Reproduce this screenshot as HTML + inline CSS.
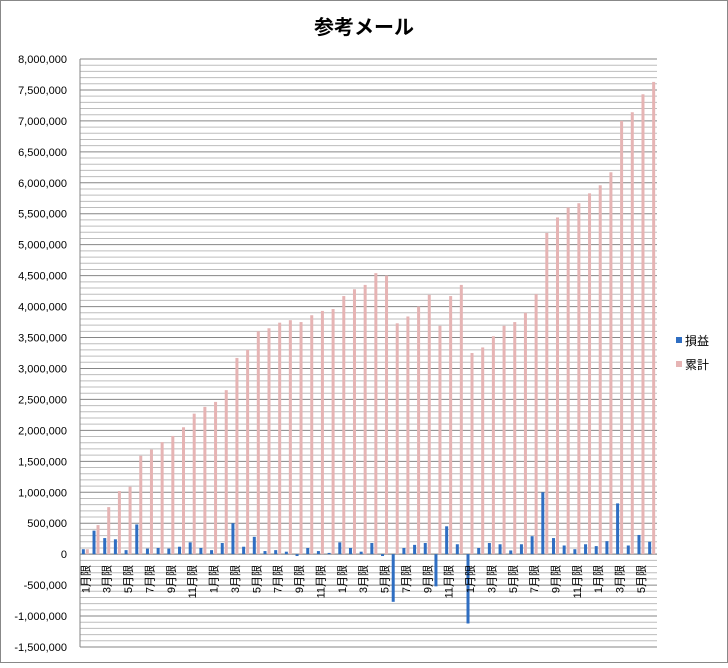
<!DOCTYPE html>
<html><head><meta charset="utf-8"><style>
body{margin:0;background:#fff;}
#wrap{width:728px;height:663px;position:relative;font-family:"Liberation Sans","Noto Sans CJK JP",sans-serif;}
svg text{font-family:"Liberation Sans","Noto Sans CJK JP",sans-serif;}
</style></head><body>
<div id="wrap">
<svg id="chart" width="728" height="663"></svg>
</div>
<script>
const categories = [];
const monthLabels = ["1月限","3月限","5月限","7月限","9月限","11月限"];
const profit = [0.08,0.38,0.26,0.24,0.065,0.48,0.09,0.10,0.09,0.12,0.19,0.10,0.065,0.18,0.50,0.12,0.28,0.05,0.065,0.04,-0.03,0.10,0.05,0.02,0.19,0.10,0.04,0.18,-0.03,-0.77,0.10,0.15,0.18,-0.52,0.45,0.16,-1.12,0.10,0.18,0.16,0.06,0.16,0.29,1.00,0.26,0.14,0.08,0.16,0.13,0.21,0.82,0.14,0.31,0.20].map(v=>v*1e6);
const cumulative = [0.08,0.47,0.76,1.02,1.09,1.59,1.69,1.81,1.91,2.05,2.27,2.38,2.46,2.65,3.17,3.30,3.60,3.65,3.74,3.78,3.75,3.86,3.93,3.96,4.17,4.28,4.35,4.54,4.50,3.73,3.84,4.00,4.19,3.69,4.17,4.35,3.25,3.34,3.52,3.69,3.75,3.90,4.20,5.19,5.44,5.60,5.67,5.83,5.96,6.17,7.00,7.14,7.43,7.63].map(v=>v*1e6);
const yTicks = [-1500000,-1000000,-500000,0,500000,1000000,1500000,2000000,2500000,3000000,3500000,4000000,4500000,5000000,5500000,6000000,6500000,7000000,7500000,8000000];
for(let i=0;i<profit.length;i++) categories.push(i%2===0 ? monthLabels[(i/2)%6] : "");

const NS="http://www.w3.org/2000/svg";
const svg=document.getElementById('chart');
const L=80,R=657,T=59,B=647,yMin=-1500000,yMax=8000000;
const y=v=>T+(yMax-v)/(yMax-yMin)*(B-T);
const bw=(R-L)/categories.length;
const x=i=>L+bw*(i+0.5);
function mk(tag,attrs,parent){const e=document.createElementNS(NS,tag);for(const k in attrs)e.setAttribute(k,attrs[k]);(parent||svg).appendChild(e);return e;}

const border=mk('rect',{x:0.5,y:0.5,width:727,height:662,fill:'#fff',stroke:'#888'});



const title=mk('text',{x:364,y:34,'text-anchor':'middle','font-size':20,'font-weight':'bold',fill:'#000'});
title.textContent='参考メール';



// gridlines
for(let v=yMin;v<=yMax;v+=100000){
  const major=(v%500000===0);
  const g=mk('line',{x1:L,x2:R,y1:y(v),y2:y(v),stroke:major?'#868686':'#bdbdbd','stroke-width':1});
  
  
}
// y labels
yTicks.forEach(v=>{
  const t=mk('text',{x:67,y:y(v)+4,'text-anchor':'end','font-size':11,fill:'#000'});
  t.textContent=v.toLocaleString('en-US');
  
  
});
const ax=mk('line',{x1:L,x2:L,y1:T,y2:B,stroke:'#868686'});


const xax=mk('line',{x1:L,x2:R,y1:y(0),y2:y(0),stroke:'#868686'});



// bars
for(let i=0;i<categories.length;i++){
  const p=profit[i];
  const b=mk('rect',{x:x(i)-3.5,y:Math.min(y(p),y(0)),width:3,height:Math.max(1,Math.abs(y(p)-y(0))),fill:'#2f6ec2'});
  
  
  const c=cumulative[i];
  const r=mk('rect',{x:x(i)+0.5,y:Math.min(y(c),y(0)),width:3,height:Math.abs(y(c)-y(0)),fill:'#e6b4b4'});
  
  
}
// x labels
categories.forEach((lab,i)=>{
  if(!lab)return;
  const t=mk('text',{transform:`translate(${x(i)+4},565) rotate(-90)`,'text-anchor':'end','font-size':11,fill:'#000'});
  t.textContent=lab;
  
  
});
// legend
const lg=mk('g',{});


[['損益','#2f6ec2',341],['累計','#e6b4b4',365]].forEach(([n,c,yy])=>{
  const s=mk('rect',{x:676,y:yy-4,width:6,height:6,fill:c},lg);
  
  
  const t=mk('text',{x:685,y:yy+4,'font-size':12,fill:'#000'},lg);
  t.textContent=n;
  
  
});
</script>
</body></html>
